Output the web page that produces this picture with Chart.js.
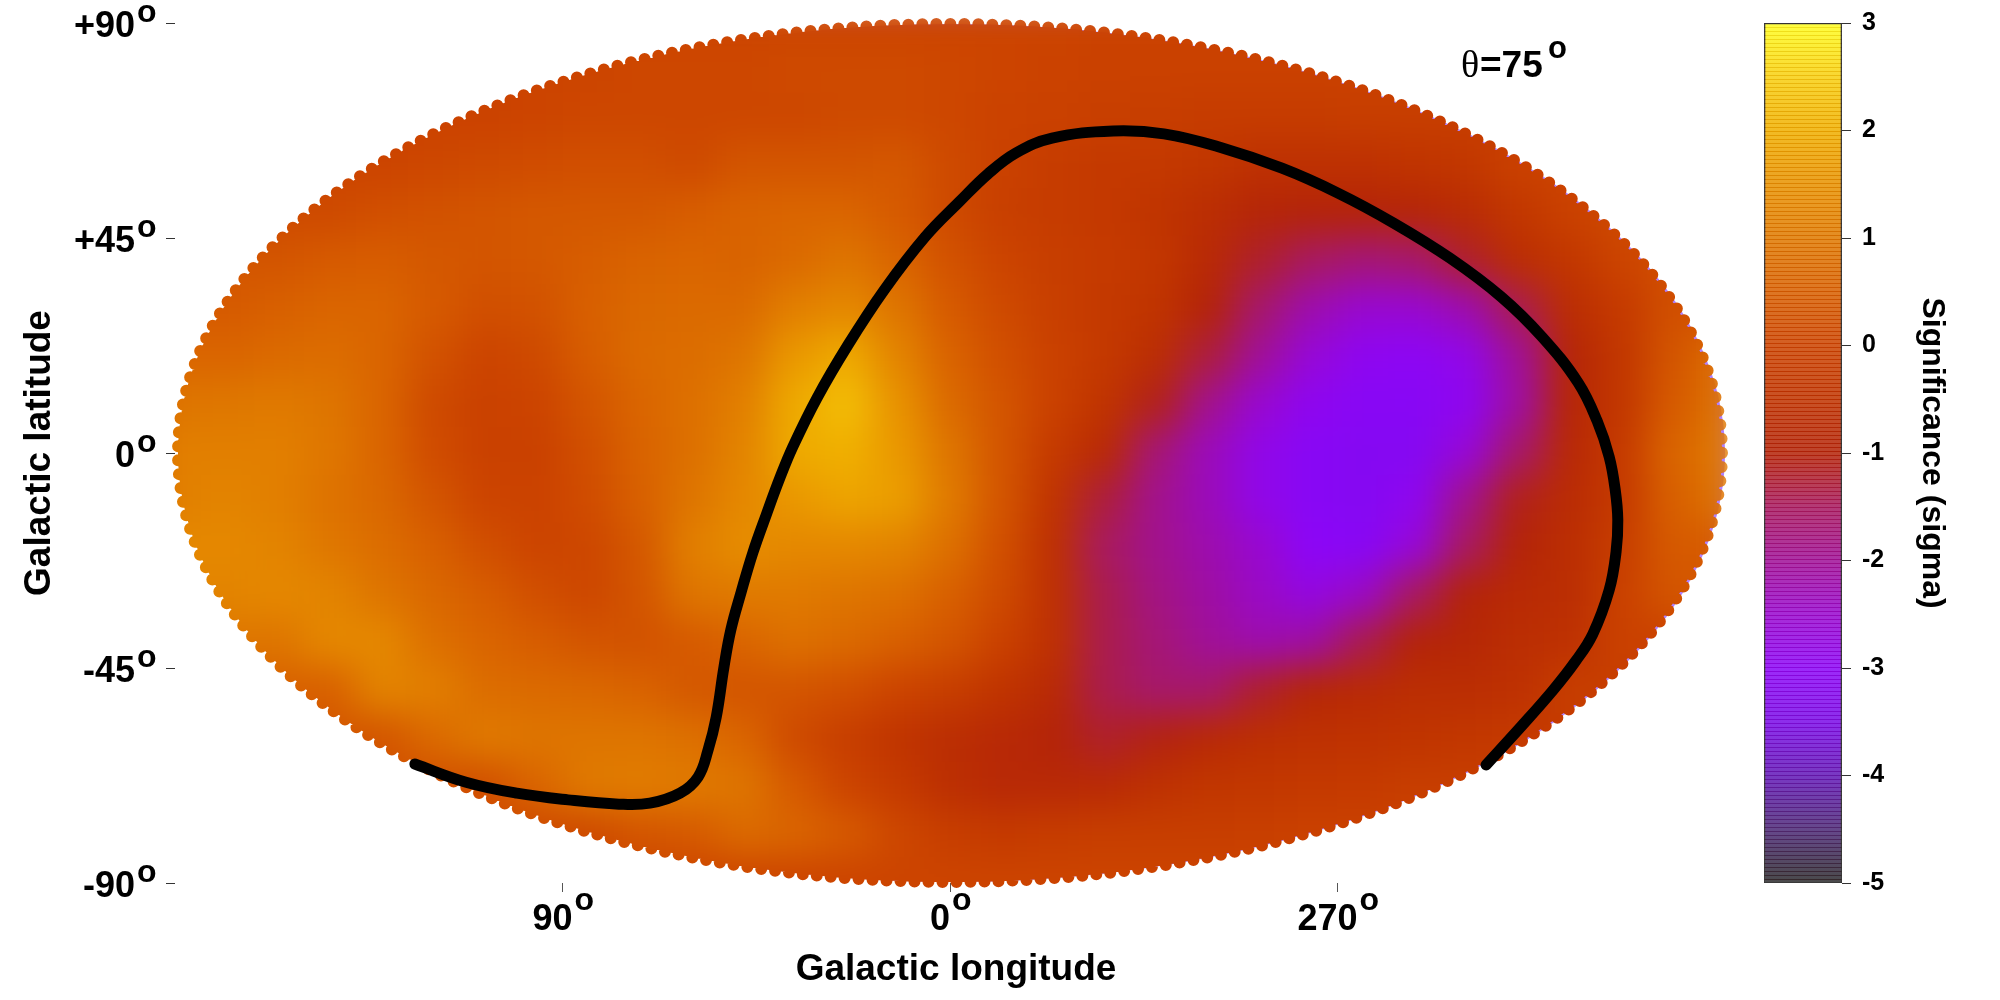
<!DOCTYPE html>
<html>
<head>
<meta charset="utf-8">
<title>Significance map</title>
<script src="https://cdn.jsdelivr.net/npm/chart.js@4/dist/chart.umd.min.js"></script>
<style>
    html, body { margin: 0; padding: 0; background: #fff; width: 2000px; height: 1000px; overflow: hidden; }
    canvas { position: absolute; top: 0; }
    #mapa { left: 0; }
    #barra { left: 1740px; }
</style>
</head>
<body>
<canvas id="mapa" width="1740" height="1000"></canvas>
<canvas id="barra" width="260" height="1000"></canvas>
<script>
// ─── Axis ticks ───────────────────────────────────────────────
const lonTicks = [90, 0, -90];
const lonTickLabels = ['90', '0', '270'];
const latTicks = [90, 45, 0, -45, -90];
const latTickLabels = ['+90', '+45', '0', '-45', '-90'];
const barTicks = [3, 2, 1, 0, -1, -2, -3, -4, -5];

// ─── Colour scale (sigma -> colour) ───────────────────────────
const paletteValues = [-5, -4.5, -4, -3.5, -3, -2.5, -2, -1.5, -1, -0.5, 0, 0.5, 1, 1.5, 2, 2.5, 3];
const paletteColors = ['#2c2c2c', '#4c2a78', '#6218b8', '#7a0ce8', '#8c06f8', '#9808d0', '#a01098', '#a81a60',
    '#b42408', '#c03400', '#cc4400', '#d86000', '#e07a00', '#e89200', '#f0b000', '#f8d010', '#ffff20'];

// ─── Sky map (one row per latitude) ───────────────────────────
const skyLon = [180, 168, 156, 144, 132, 120, 108, 96, 84, 72, 60, 48, 36, 24, 12, 0,
    -12, -24, -36, -48, -60, -72, -84, -96, -108, -120, -132, -144, -156, -168, -180];
const skyLat = [90, 80, 70, 60, 50, 40, 30, 20, 10, 0, -10, -20, -30, -40, -50, -60, -70, -80, -90];
const skySignificance = [
    [0, 0, 0, 0, 0, 0, 0, 0, 0, 0, 0, 0, 0, 0, 0, 0, 0, 0, -.05, -.05, -.05, -.05, -.05, -.05, -.05, -.05, -.05, -.05, -.05, -.05, -.05],
    [0, 0, 0, 0, 0, 0, 0, 0, 0, .05, .05, .05, .1, .1, .1, .05, 0, -.05, -.1, -.1, -.1, -.1, -.1, -.1, -.1, -.1, -.1, -.1, -.1, -.1, -.1],
    [-.05, -.05, -.05, -.05, -.05, -.05, -.05, 0, .05, .05, .05, .05, .05, .1, .1, .05, -.05, -.1, -.15, -.2, -.25, -.25, -.25, -.2, -.2, -.2, -.2, -.2, -.2, -.2, -.2],
    [0, 0, 0, 0, 0, .05, .1, .15, .2, .2, .1, .3, .3, .3, .35, .1, -.1, -.25, -.35, -.35, -.45, -.6, -.6, -.6, -.5, -.4, -.1, 0, 0, 0, 0],
    [.1, .1, .1, .1, .2, .25, .3, .35, .35, .35, .45, .55, .6, .6, .4, .1, -.15, -.25, -.35, -.5, -.7, -.95, -1, -1, -.95, -.75, -.4, -.1, .1, .1, .1],
    [.3, .3, .3, .4, .45, .35, .3, .35, .45, .55, .6, .55, .7, .9, .6, .25, 0, -.2, -.3, -.4, -.8, -1.2, -1.5, -1.7, -1.6, -1.2, -.7, -.4, 0, .2, .2],
    [.4, .4, .5, .6, .6, .4, .2, .25, .5, .65, .7, .7, 1.1, 1.3, .9, .4, .1, -.15, -.35, -.5, -1, -1.6, -2.2, -2.5, -2.5, -2.2, -1.4, -.7, -.3, .2, .2],
    [.6, .6, .7, .75, .6, .25, 0, .1, .45, .7, .75, .9, 1.6, 1.9, 1.2, .55, .2, -.1, -.35, -.7, -1.3, -2, -2.6, -2.9, -2.95, -2.8, -2, -.95, -.4, .3, .8],
    [.9, .95, 1, .9, .6, .1, -.1, 0, .3, .6, .8, 1.1, 1.9, 2.2, 1.5, .7, .3, -.1, -.5, -1.1, -1.9, -2.5, -2.9, -3.1, -3.1, -2.9, -2.1, -.9, -.4, .4, .9],
    [1.1, 1.1, 1.1, .95, .6, .15, -.1, -.1, .2, .55, .8, 1.2, 1.9, 2, 1.6, .9, .3, -.3, -.8, -1.7, -2.3, -2.8, -3.1, -3.2, -3.2, -2.6, -1.6, -.85, -.3, .6, 1],
    [1.1, 1.2, 1.1, .85, .65, .3, 0, -.05, .15, .5, .9, 1.3, 1.6, 1.8, 1.7, 1, .3, -.5, -1.3, -1.9, -2.3, -2.8, -3.1, -3.2, -2.9, -1.9, -1.1, -.75, -.3, .5, .9],
    [1.3, 1.3, 1.2, .95, .75, .5, .2, 0, .05, .35, 1.1, 1.4, 1.3, 1.3, 1.2, .8, .2, -.6, -1.5, -1.9, -2.2, -2.5, -3, -3.1, -2.6, -1.5, -1, -.7, -.2, .4, .4],
    [1.2, 1.2, 1.3, 1.2, .9, .65, .45, .2, .05, .3, .9, 1, 1, .9, .8, .5, .1, -.6, -1.4, -1.8, -2.1, -2.4, -2.7, -2.4, -1.5, -1, -.8, -.7, -.1, .3, .3],
    [.9, .9, .9, 1.3, 1.3, .8, .6, .45, .3, .25, .4, .6, .8, .7, .5, .3, -.1, -.6, -1.4, -1.7, -2, -2.2, -2.1, -1.4, -1, -.9, -.7, -.6, -.1, -.1, -.1],
    [.5, .5, .5, .5, 1.2, 1.1, .75, .7, .65, .55, .35, .3, .3, .2, 0, -.2, -.5, -.8, -1.4, -1.6, -1.6, -1.2, -.9, -.8, -.7, -.7, -.6, -.2, -.2, -.2, -.2],
    [.3, .3, .3, .3, .3, .7, 1, .9, .9, .9, .8, .6, .1, -.2, -.5, -.7, -.85, -1, -1.2, -1.05, -.85, -.65, -.6, -.55, -.5, -.4, -.3, -.3, -.3, -.3, -.3],
    [.2, .2, .2, .2, .2, .2, .2, .6, 1, 1.05, 1, .9, .4, 0, -.3, -.65, -.85, -.85, -.8, -.6, -.45, -.4, -.35, -.3, -.2, -.2, -.2, -.2, -.2, -.2, -.2],
    [.1, .1, .1, .1, .1, .1, .1, .1, .1, .3, .4, .7, .6, .4, .05, -.2, -.3, -.25, -.2, -.2, -.2, -.15, -.1, -.1, -.1, -.1, -.1, -.1, -.1, -.1, -.1],
    [0, 0, 0, 0, 0, 0, 0, 0, 0, 0, 0, 0, 0, 0, 0, 0, 0, 0, 0, 0, 0, 0, 0, 0, 0, 0, 0, 0, 0, 0, 0]
];

// ─── Black curve ──────────────────────────────────────────────
const curveLon = [124.3, 112.4, 100.6, 88.7, 76.9, 69.7, 62.7, 58.5, 56.2, 54.3, 52.5, 50.9, 48.5, 45.8, 42.7, 39.5,
    36.5, 30.9, 23.7, 15.3, 5.8, -2.3, -8.8, -15.3, -23.7, -37.9, -49.7, -62.7, -77.1, -90.1, -103.1, -116.1, -128.0,
    -137.5, -145.9, -150.3, -153.1, -154.5, -155.1, -154.7, -153.1, -149.3, -145.2, -140.1, -132.6, -124.5];
const curveLat = [-65.1, -68.9, -71.2, -72.6, -73.5, -73.3, -71.2, -67.8, -62.2, -55.3, -44.8, -37.0, -29.1, -20.9, -13.0, -5.2,
    1.3, 11.5, 22.6, 34.1, 45.2, 52.7, 58.4, 62.8, 65.9, 67.4, 66.8, 64.0, 59.6, 54.4, 48.1, 40.8, 32.7,
    24.3, 14.7, 6.7, -0.8, -7.7, -14.0, -20.7, -28.7, -37.9, -43.7, -49.6, -57.3, -65.3];

const FONT = '"Liberation Sans", Arial, sans-serif';

// ─── Colour of a sigma value ──────────────────────────────────
function colorFor(v) {
    let i = 0;
    while (i < paletteValues.length - 2 && v > paletteValues[i + 1]) i++;
    const t = Math.max(0, Math.min(1, (v - paletteValues[i]) / (paletteValues[i + 1] - paletteValues[i])));
    const a = parseInt(paletteColors[i].slice(1), 16);
    const b = parseInt(paletteColors[i + 1].slice(1), 16);
    const mix = (s) => Math.round(((a >> s) & 255) * (1 - t) + ((b >> s) & 255) * t);
    return `rgb(${mix(16)},${mix(8)},${mix(0)})`;
}

// ─── Ellipse outline with the scalloped edge of the markers ───
function scallopPath(cx, cy, rx, ry, r, paso) {
    const p = new Path2D();
    p.ellipse(cx, cy, rx, ry, 0, 0, Math.PI * 2);
    let t = 0;
    while (t < Math.PI * 2) {
        const x = cx + rx * Math.cos(t);
        const y = cy + ry * Math.sin(t);
        p.moveTo(x + r, y);
        p.arc(x, y, r, 0, Math.PI * 2);
        t += paso / Math.hypot(rx * Math.sin(t), ry * Math.cos(t));
    }
    return p;
}

// ─── Both y axes have to start at the same height ─────────────
const topAlign = {
    id: 'topAlign',
    afterLayout(chart) {
        const area = chart.chartArea, ys = chart.scales.y;
        const alto = area.bottom - 23;
        area.top = 23;
        area.height = alto;
        ys.top = 23;
        ys.height = alto;
        ys.configure();
    }
};

// ─── Draws the sky cells offscreen, smooths them, clips to the ellipse ───
const skyPlugin = {
    id: 'skyPlugin',
    beforeDatasetDraw(chart, args) {
        if (args.index !== 1) return;
        const { ctx, canvas } = chart;
        const xs = chart.scales.x, ys = chart.scales.y;
        const cx = xs.getPixelForValue(0), cy = ys.getPixelForValue(0);
        const rx = xs.getPixelForValue(-180) - cx - 3;
        const ry = ys.getPixelForValue(-90) - cy - 1;

        const off = document.createElement('canvas');
        off.width = canvas.width;
        off.height = canvas.height;
        const octx = off.getContext('2d');
        octx.fillStyle = colorFor(0);
        octx.fillRect(0, 0, off.width, off.height);
        args.meta.data.forEach((pt) => pt.draw(octx));

        // Light violet that shows between the scallops on the right
        ctx.save();
        ctx.fillStyle = '#b080ff';
        ctx.beginPath();
        ctx.ellipse(cx + 3, cy, rx, ry, 0, 0, Math.PI * 2);
        ctx.fill();
        ctx.restore();

        ctx.save();
        ctx.clip(scallopPath(cx, cy, rx, ry, 6, 14));
        ctx.filter = 'blur(18px)';
        ctx.drawImage(off, 0, 0);
        ctx.restore();
        return false;
    },
    afterDraw(chart) {
        // Superscript "o" of the degree labels, axis title and annotation
        const { ctx } = chart;
        ctx.save();
        ctx.fillStyle = '#000';
        ctx.textAlign = 'left';
        ctx.textBaseline = 'alphabetic';
        const xs = chart.scales.x, ys = chart.scales.y;
        ctx.font = `bold 36px ${FONT}`;
        const w = lonTickLabels.map((t) => ctx.measureText(t).width);
        ctx.font = `bold 32px ${FONT}`;
        lonTicks.forEach((v, i) => {
            ctx.fillText('o', xs.getPixelForValue(v) - 10 + w[i] / 2 + 2, 910);
        });
        latTicks.forEach((v) => {
            ctx.fillText('o', 137, ys.getPixelForValue(v) - 1);
        });
        ctx.font = `38px "Liberation Serif", serif`;
        ctx.fillText('θ', 1461, 77);
        ctx.font = `bold 37px ${FONT}`;
        ctx.fillText('=75', 1480, 77);
        ctx.font = `bold 31px ${FONT}`;
        ctx.fillText('o', 1548, 58);
        ctx.font = `bold 37px ${FONT}`;
        ctx.textAlign = 'center';
        ctx.fillText('Galactic longitude', 956, 980);
        ctx.restore();
    }
};

// ─── Main chart: sky map ──────────────────────────────────────
const skyPoints = [];
skyLat.forEach((lat, j) => skyLon.forEach((lon, i) => {
    skyPoints.push({ x: lon, y: lat, v: skySignificance[j][i] });
}));

new Chart(document.getElementById('mapa'), {
    type: 'scatter',
    plugins: [topAlign, skyPlugin],
    data: {
        datasets: [
            {
                label: 'Curve',
                data: curveLon.map((x, i) => ({ x, y: curveLat[i] })),
                showLine: true,
                borderColor: '#000',
                borderWidth: 11,
                borderCapStyle: 'round',
                tension: 0.4,
                pointRadius: 0,
                clip: false
            },
            {
                label: 'Significance',
                data: skyPoints,
                pointStyle: 'rect',
                pointRadius: 36.8,
                pointBorderWidth: 0,
                pointBackgroundColor: (c) => colorFor(c.raw ? c.raw.v : 0),
                clip: false
            }
        ]
    },
    options: {
        responsive: false,
        devicePixelRatio: 1,
        animation: false,
        layout: { autoPadding: false, padding: { left: 0, right: 15, top: 23, bottom: 0 } },
        plugins: { legend: { display: false }, tooltip: { enabled: false } },
        scales: {
            x: {
                type: 'linear',
                reverse: true,
                min: -180,
                max: 180,
                afterFit: (s) => { s.height = 117; },
                afterBuildTicks: (s) => { s.ticks = lonTicks.map((value) => ({ value })); },
                border: { display: false },
                grid: { drawOnChartArea: false, tickLength: 9, tickColor: '#555', tickWidth: 1 },
                ticks: {
                    color: '#000',
                    font: { family: FONT, size: 36, weight: 'bold' },
                    padding: 6,
                    labelOffset: -10,
                    autoSkip: false,
                    maxRotation: 0,
                    callback: (v, i) => lonTickLabels[i]
                }
            },
            y: {
                type: 'linear',
                min: -90,
                max: 90,
                afterFit: (s) => { s.width = 175; },
                afterBuildTicks: (s) => { s.ticks = latTicks.map((value) => ({ value })); },
                border: { display: false },
                grid: { drawOnChartArea: false, tickLength: 9, tickColor: '#333', tickWidth: 1 },
                ticks: {
                    color: '#000',
                    font: { family: FONT, size: 36, weight: 'bold' },
                    padding: 31,
                    labelOffset: 4,
                    autoSkip: false,
                    callback: (v, i) => latTickLabels[i]
                },
                title: {
                    display: true,
                    text: 'Galactic latitude',
                    color: '#000',
                    font: { family: FONT, size: 37, weight: 'bold' },
                    padding: { top: 18, bottom: 0 }
                }
            }
        }
    }
});

// ─── Colour bar ───────────────────────────────────────────────
function barGradient(c) {
    const area = c.chart.chartArea;
    if (!area) return '#fff';
    const ys = c.chart.scales.y;
    const g = c.chart.ctx.createLinearGradient(0, ys.getPixelForValue(-5), 0, ys.getPixelForValue(3));
    paletteValues.forEach((v, i) => g.addColorStop((v + 5) / 8, paletteColors[i]));
    return g;
}

// Thin horizontal bands seen in the bar
function barStripes(c) {
    const tile = document.createElement('canvas');
    tile.width = 1;
    tile.height = 4;
    const t = tile.getContext('2d');
    t.fillStyle = 'rgba(255,255,255,0.14)';
    t.fillRect(0, 0, 1, 3);
    t.fillStyle = 'rgba(120,0,0,0.10)';
    t.fillRect(0, 3, 1, 1);
    return c.chart.ctx.createPattern(tile, 'repeat');
}

new Chart(document.getElementById('barra'), {
    type: 'bar',
    plugins: [topAlign],
    data: {
        labels: ['sigma'],
        datasets: [
            { data: [[-5, 3]], backgroundColor: barStripes, borderWidth: 1, borderColor: '#333', borderSkipped: false },
            { data: [[-5, 3]], backgroundColor: barGradient, borderWidth: 0 }
        ]
    },
    options: {
        responsive: false,
        devicePixelRatio: 1,
        animation: false,
        layout: { autoPadding: false, padding: { left: 24, right: 0, top: 23, bottom: 117 } },
        plugins: { legend: { display: false }, tooltip: { enabled: false } },
        datasets: { bar: { barPercentage: 1, categoryPercentage: 1, grouped: false } },
        scales: {
            x: { display: false },
            y: {
                position: 'right',
                min: -5,
                max: 3,
                afterFit: (s) => { s.width = 158; },
                afterBuildTicks: (s) => { s.ticks = barTicks.map((value) => ({ value })); },
                border: { display: false },
                grid: { drawOnChartArea: false, tickLength: 9, tickColor: '#333', tickWidth: 1 },
                ticks: {
                    color: '#000',
                    font: { family: FONT, size: 25, weight: 'bold' },
                    padding: 11,
                    autoSkip: false,
                    callback: (v) => String(v)
                },
                title: {
                    display: true,
                    text: 'Significance (sigma)',
                    color: '#000',
                    font: { family: FONT, size: 32, weight: 'bold' },
                    padding: { top: 49, bottom: 0 }
                }
            }
        }
    }
});
</script>
</body>
</html>
